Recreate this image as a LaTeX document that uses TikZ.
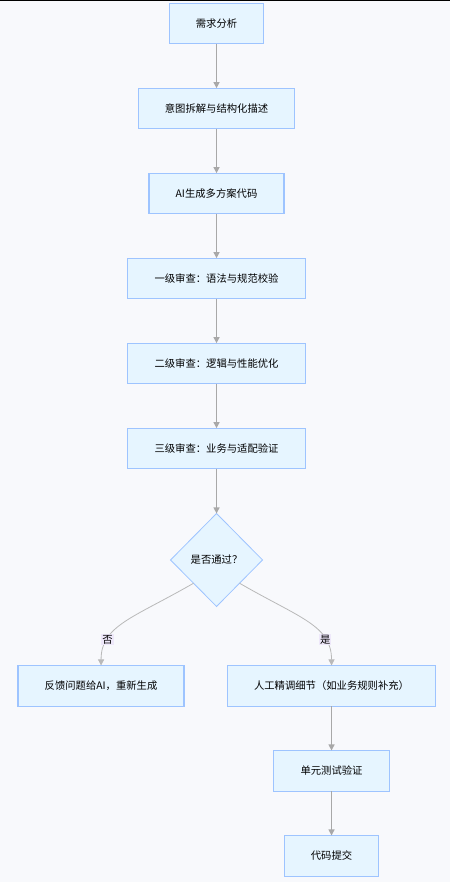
\documentclass[tikz,border=0pt]{standalone}
\usepackage{fontspec}
\newfontfamily\cjk{Noto Sans CJK SC}
\usepackage{xcolor}
\usetikzlibrary{positioning, shapes.geometric, arrows.meta}
\definecolor{boxfill}{HTML}{E6F5FF}
\definecolor{boxline}{HTML}{9EC4FF}
\definecolor{arrgray}{HTML}{A8A8A8}
\definecolor{pagebg}{HTML}{F8F9FC}
\definecolor{lblbg}{HTML}{EEE8FA}

\begin{document}
\begin{tikzpicture}[
      node distance=33.25pt,
      font=\cjk\fontsize{7.75pt}{9pt}\selectfont,
      box/.style={draw=boxline, fill=boxfill, line width=0.9pt, outer sep=0pt,
                  minimum height=30.5pt, inner xsep=20pt, inner ysep=0pt},
      decide/.style={diamond, draw=boxline, fill=boxfill, line width=0.6pt, outer sep=0pt,
                     minimum width=69pt, minimum height=69.75pt, inner sep=0pt},
      arr/.style={-{Triangle[width=4.5pt,length=4.5pt]}, draw=arrgray, line width=0.9pt},
      branch/.style={arr, draw=arrgray!80, line width=0.6pt},
      lbl/.style={fill=lblbg, inner sep=0.8pt},
    ]
    % page
    \useasboundingbox (0,0) rectangle (337.5pt,-661.5pt);
    \fill[pagebg] (0,0) rectangle (337.5pt,-661.5pt);
    \draw[black, line width=0.75pt] (0,-0.375pt) -- (337.5pt,-0.375pt);
    % main line
    \node[box] (req) at (162.4pt,-17.6pt) {需求分析};
    \node[box, below=of req] (split) {意图拆解与结构化描述};
    \node[box, below=of split] (gen) {AI生成多方案代码};
    \node[box, below=of gen] (rev1) {一级审查：语法与规范校验};
    \node[box, below=of rev1] (rev2) {二级审查：逻辑与性能优化};
    \node[box, below=of rev2] (rev3) {三级审查：业务与适配验证};
    % decision
    \node[decide, below=33.5pt of rev3] (pass) {是否通过？};
    % branches
    \node[box, below=44.25pt of pass, xshift=-86.6pt] (back) {反馈问题给AI，重新生成};
    \node[box, below=44.25pt of pass, xshift=86.25pt] (tune) {人工精调细节（如业务规则补充）};
    \node[box, below=of tune] (test) {单元测试验证};
    \node[box, below=of test] (commit) {代码提交};
    % arrows
    \draw[arr] (req) -- (split);
    \draw[arr] (split) -- (gen);
    \draw[arr] (gen) -- (rev1);
    \draw[arr] (rev1) -- (rev2);
    \draw[arr] (rev2) -- (rev3);
    \draw[arr] (rev3) -- (pass);
    \draw[branch] (pass.south west) to[out=-150, in=90, out distance=52.5pt, in distance=30pt]
      node[lbl, pos=0.74]{否} (back.north);
    \draw[branch] (pass.south east) to[out=-30, in=90, out distance=52.5pt, in distance=30pt]
      node[lbl, pos=0.74]{是} (tune.north);
    \draw[arr] (tune) -- (test);
    \draw[arr] (test) -- (commit);
  \end{tikzpicture}
\end{document}
